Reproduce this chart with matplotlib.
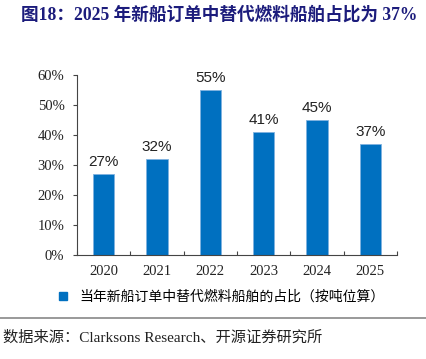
import matplotlib.pyplot as plt
from matplotlib.ticker import PercentFormatter, FixedLocator
from matplotlib.lines import Line2D

years = ["2020", "2021", "2022", "2023", "2024", "2025"]
share = [27, 32, 55, 41, 45, 37]
yticks = [0, 10, 20, 30, 40, 50, 60]

BLUE = "#0070C0"
NAVY = "#1c1c7c"
CJK = ["Liberation Serif", "Noto Sans CJK SC"]

fig = plt.figure(figsize=(4.27, 3.59), dpi=100)
ax = fig.add_axes([77 / 427, 1 - 255 / 359, (397 - 77) / 427, (255 - 75) / 359])

x = list(range(len(years)))
ax.bar(x, share, width=0.4, color=BLUE, edgecolor="#7fb2e0", linewidth=0.6, zorder=2)
for xi, v in zip(x, share):
    ax.text(xi, v + 1.8, f"{v}%", ha="center", va="bottom", fontsize=11,
            family="Liberation Sans", color="#222222")

ax.set_xlim(-0.5, len(years) - 0.5)
ax.set_ylim(0, 60)
ax.set_yticks(yticks)
ax.yaxis.set_major_formatter(PercentFormatter(decimals=0))
ax.set_xticks(x)
ax.set_xticklabels(years)
ax.xaxis.set_minor_locator(FixedLocator([i - 0.5 for i in range(len(years) + 1)]))
for lab in ax.get_xticklabels() + ax.get_yticklabels():
    lab.set_family("Liberation Serif")
    lab.set_fontsize(10.5)
    lab.set_color("#222222")
ax.tick_params(axis="y", direction="out", length=3, width=0.8, color="#444444", pad=6)
ax.tick_params(axis="x", which="major", length=0, pad=7)
ax.tick_params(axis="x", which="minor", direction="in", length=3, width=0.8, color="#444444")
for side in ("top", "right"):
    ax.spines[side].set_visible(False)
for side in ("left", "bottom"):
    ax.spines[side].set_color("#444444")
    ax.spines[side].set_linewidth(0.8)

# title
fig.text(21 / 427, 1 - 15 / 359, "图18：2025 年新船订单中替代燃料船舶占比为 37%",
         fontsize=12.7, fontweight="bold", color=NAVY, family=CJK, va="center")

# legend
handle = Line2D([], [], marker="s", linestyle="none", color=BLUE, markersize=6)
fig.legend([handle], ["当年新船订单中替代燃料船舶的占比（按吨位算）"],
           loc="center", bbox_to_anchor=(217 / 427, 1 - 297 / 359), frameon=False,
           prop={"family": CJK, "size": 10}, handletextpad=0.2, borderaxespad=0)

# source line
fig.add_artist(Line2D([0, 1], [1 - 318 / 359] * 2, color="#888888", linewidth=1.2))
fig.text(3 / 427, 1 - 338 / 359, "数据来源：Clarksons Research、开源证券研究所",
         fontsize=11, family=CJK, color="#222222", va="center")

fig.savefig("out.png", dpi=100)
